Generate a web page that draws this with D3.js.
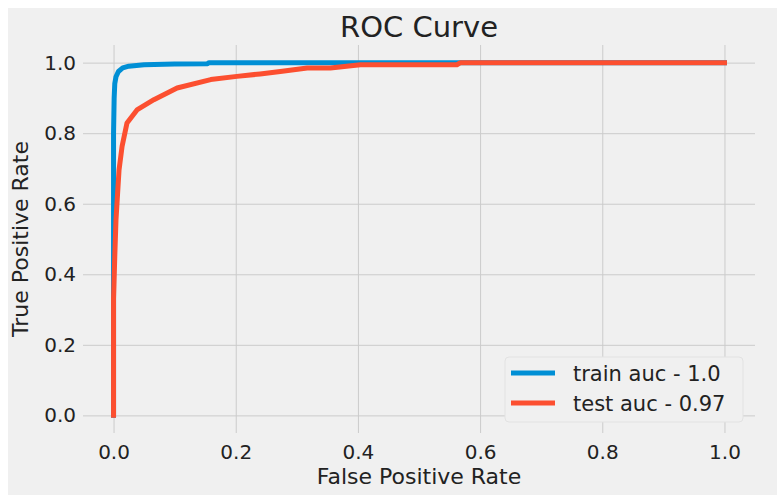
<!DOCTYPE html>
<html>
<head>
<meta charset="utf-8">
<script src="https://cdnjs.cloudflare.com/ajax/libs/d3/7.8.5/d3.min.js"></script>
<style>
  body { margin: 0; background: #ffffff; }
  text { font-family: "DejaVu Sans", sans-serif; fill: #222222; }
</style>
</head>
<body>
<div id="chart"></div>
<script>
// roc points
var trainFpr = [0, 0, 0.001, 0.002, 0.004, 0.008, 0.015, 0.025, 0.05, 0.1, 0.154, 0.156, 1.0];
var trainTpr = [0, 0.8, 0.9, 0.94, 0.96, 0.975, 0.985, 0.99, 0.994, 0.996, 0.997, 1.0, 1.0];

var testFpr = [0, 0, 0.002, 0.004, 0.009, 0.014, 0.022, 0.039, 0.066, 0.104, 0.159, 0.202, 0.24, 0.273, 0.317, 0.355, 0.404, 0.562, 0.568, 1.0];
var testTpr = [0, 0.33, 0.45, 0.555, 0.696, 0.763, 0.829, 0.867, 0.895, 0.928, 0.952, 0.961, 0.968, 0.975, 0.985, 0.985, 0.994, 0.994, 1.0, 1.0];

var seriesNames = ["train auc - 1.0", "test auc - 0.97"];
var seriesColors = ["#008fd5", "#fc4f30"];
var tickValues = [0, 0.2, 0.4, 0.6, 0.8, 1.0];

var W = 777, H = 495;
var margin = {left: 83, right: 22, top: 45, bottom: 62};

var svg = d3.select("#chart").append("svg")
    .attr("width", W)
    .attr("height", H);

// figure background (white border top/left)
svg.append("rect")
    .attr("x", 8).attr("y", 8)
    .attr("width", W - 8).attr("height", H - 8)
    .attr("fill", "#f0f0f0");

var x = d3.scaleLinear()
    .domain([-0.05, 1.05])
    .range([margin.left, W - margin.right]);

var y = d3.scaleLinear()
    .domain([-0.05, 1.05])
    .range([H - margin.bottom, margin.top]);

// grid + tick labels via axes, no tick marks
var xAxis = d3.axisBottom(x)
    .tickValues(tickValues)
    .tickFormat(d3.format(".1f"))
    .tickSize(-(H - margin.bottom - margin.top))
    .tickPadding(12);

var yAxis = d3.axisLeft(y)
    .tickValues(tickValues)
    .tickFormat(d3.format(".1f"))
    .tickSize(-(W - margin.right - margin.left))
    .tickPadding(7);

var gx = svg.append("g")
    .attr("transform", "translate(0," + (H - margin.bottom) + ")")
    .call(xAxis);

var gy = svg.append("g")
    .attr("transform", "translate(" + margin.left + ",0)")
    .call(yAxis);

[gx, gy].forEach(function(g){
    g.select(".domain").remove();
    g.selectAll(".tick line").attr("stroke", "#cbcbcb").attr("stroke-width", 1);
    g.selectAll(".tick text")
        .style("font-family", "DejaVu Sans")
        .style("font-size", "20px")
        .attr("fill", "#222222");
});

var line = d3.line()
    .x(function(d) { return x(d[0]); })
    .y(function(d) { return y(d[1]); });

var trainPts = d3.zip(trainFpr, trainTpr);
var testPts = d3.zip(testFpr, testTpr);

[trainPts, testPts].forEach(function(pts, i){
    svg.append("path")
        .datum(pts)
        .attr("d", line)
        .attr("fill", "none")
        .attr("stroke", seriesColors[i])
        .attr("stroke-width", 5)
        .attr("stroke-linejoin", "round")
        .attr("stroke-linecap", "square");
});

// title and axis labels
svg.append("text")
    .attr("x", (margin.left + W - margin.right) / 2)
    .attr("y", 37)
    .attr("text-anchor", "middle")
    .style("font-size", "29px")
    .text("ROC Curve");

svg.append("text")
    .attr("x", (margin.left + W - margin.right) / 2)
    .attr("y", 484)
    .attr("text-anchor", "middle")
    .style("font-size", "22px")
    .text("False Positive Rate");

svg.append("text")
    .attr("transform", "translate(28," + ((margin.top + H - margin.bottom) / 2) + ") rotate(-90)")
    .attr("text-anchor", "middle")
    .style("font-size", "22px")
    .text("True Positive Rate");

// legend, lower right
var lg = svg.append("g").attr("transform", "translate(505,357)");

lg.append("rect")
    .attr("width", 238)
    .attr("height", 65)
    .attr("rx", 4)
    .attr("fill", "#f0f0f0")
    .attr("stroke", "#e2e2e2")
    .attr("stroke-width", 1);

seriesNames.forEach(function(name, i){
    var ly = 16 + i * 30;
    lg.append("line")
        .attr("x1", 6).attr("x2", 50)
        .attr("y1", ly).attr("y2", ly)
        .attr("stroke", seriesColors[i])
        .attr("stroke-width", 5);
    lg.append("text")
        .attr("x", 68)
        .attr("y", ly + 8)
        .style("font-size", "21px")
        .text(name);
});
</script>
</body>
</html>
